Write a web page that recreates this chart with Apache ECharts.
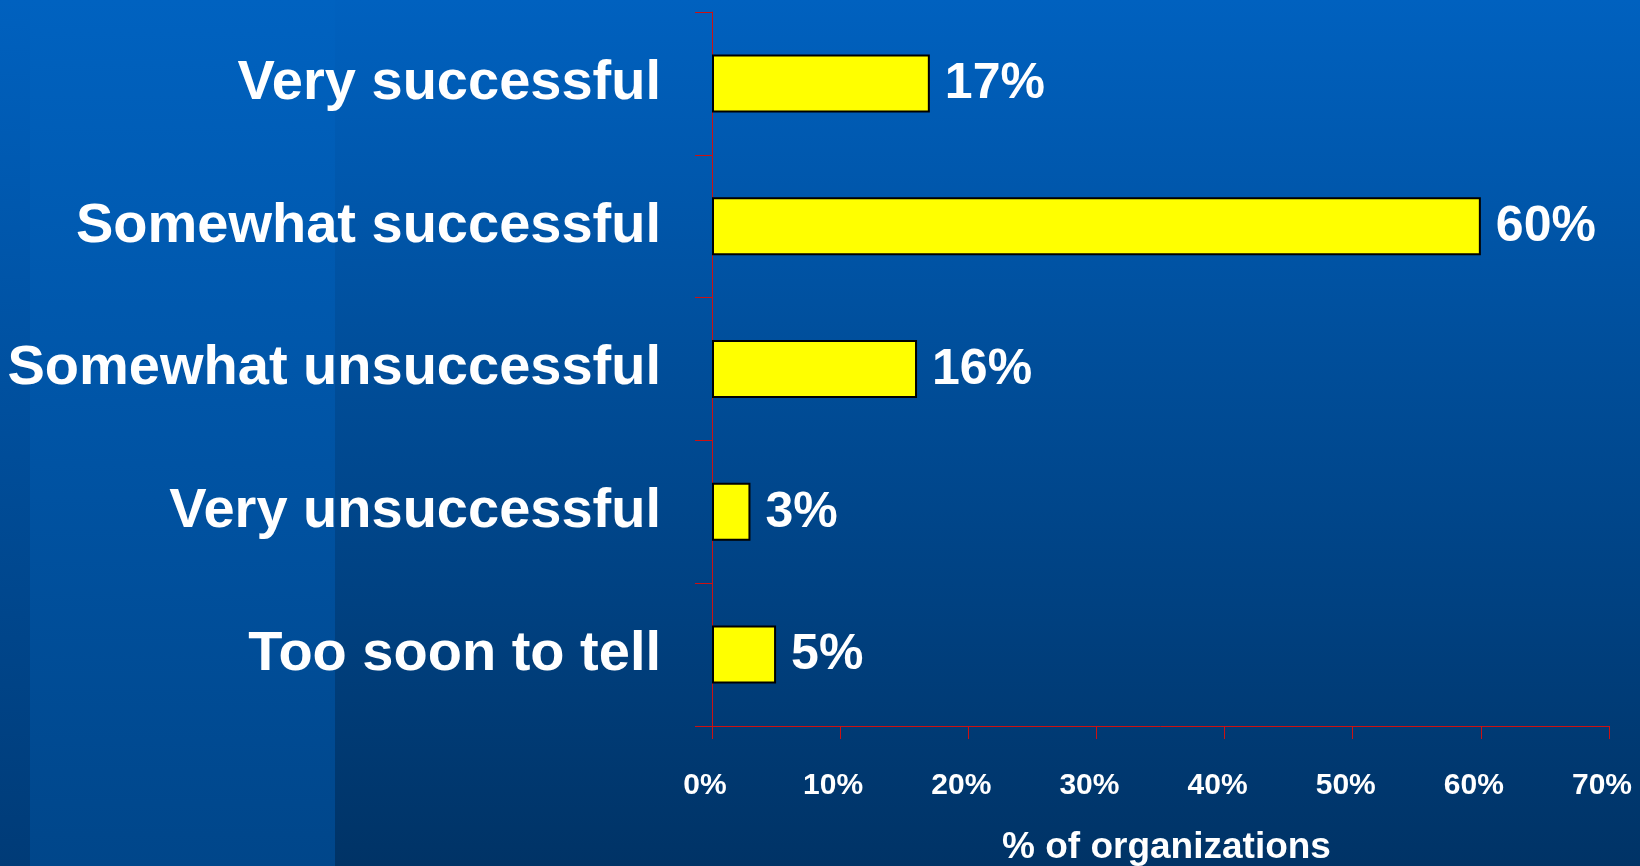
<!DOCTYPE html>
<html>
<head>
<meta charset="utf-8">
<title>Success rating</title>
<script src="https://cdn.jsdelivr.net/npm/echarts@6/dist/echarts.min.js"></script>
<style>
  html, body { margin: 0; padding: 0; width: 100%; height: 100%; overflow: hidden; }
  #chart { width: 1640px; height: 866px; }
</style>
</head>
<body>
<div id="chart"></div>
<script>
// Survey answers, top to bottom
const categories = [
  'Very successful',
  'Somewhat successful',
  'Somewhat unsuccessful',
  'Very unsuccessful',
  'Too soon to tell'
];
// Share of organizations giving each answer (%)
const shares = [17, 60, 16, 3, 5];
// Value axis range and step (%)
const axisMin = 0;
const axisMax = 70;
const axisStep = 10;
const axisTitle = '% of organizations';

const FONT = '"Liberation Sans", Arial, sans-serif';
const RED = '#CC1111';

const chart = echarts.init(document.getElementById('chart'), null, { renderer: 'canvas' });

function vGrad(top, bottom) {
  return new echarts.graphic.LinearGradient(0, 0, 0, 1, [
    { offset: 0, color: top },
    { offset: 1, color: bottom }
  ]);
}

chart.setOption({
  backgroundColor: vGrad('#0061BF', '#003366'),
  animation: false,
  graphic: [
    {
      type: 'rect', z: -10, silent: true,
      shape: { x: 0, y: 0, width: 30, height: 866 },
      style: { fill: vGrad('#0061BF', '#003B77') }
    },
    {
      type: 'rect', z: -10, silent: true,
      shape: { x: 30, y: 0, width: 305, height: 866 },
      style: { fill: vGrad('#0062C0', '#00468A') }
    }
  ],
  grid: {
    left: 712, right: 31, top: 12, bottom: 140,
    containLabel: false,
    outerBoundsMode: 'none'
  },
  xAxis: {
    type: 'value',
    min: axisMin,
    max: axisMax,
    interval: axisStep,
    name: axisTitle,
    nameLocation: 'middle',
    nameGap: 103,
    nameTextStyle: {
      color: '#FFFFFF', fontFamily: FONT, fontWeight: 'bold', fontSize: 37,
      padding: [0, 0, 0, 12]
    },
    axisLine: { show: true, lineStyle: { color: RED, width: 1 } },
    axisTick: { show: true, inside: false, length: 13, lineStyle: { color: RED, width: 1 } },
    splitLine: { show: false },
    axisLabel: {
      color: '#FFFFFF', fontFamily: FONT, fontWeight: 'bold', fontSize: 30,
      margin: 45, formatter: '{value}%', padding: [0, 14, 0, 0]
    }
  },
  yAxis: {
    type: 'category',
    data: categories,
    inverse: true,
    axisLine: { show: true, lineStyle: { color: RED, width: 1 } },
    axisTick: { show: true, inside: false, length: 17, alignWithLabel: false, lineStyle: { color: RED, width: 1 } },
    splitLine: { show: false },
    axisLabel: {
      color: '#FFFFFF', fontFamily: FONT, fontWeight: 'bold', fontSize: 56, margin: 51,
      padding: [4, 0, 0, 0]
    }
  },
  series: [{
    type: 'bar',
    data: shares,
    barWidth: 58,
    itemStyle: { color: '#FFFF00', borderColor: '#000000', borderWidth: 2 },
    label: {
      show: true,
      position: 'right',
      distance: 15,
      offset: [0, 1],
      formatter: '{c}%',
      color: '#FFFFFF', fontFamily: FONT, fontWeight: 'bold', fontSize: 50
    },
    z: 3
  }]
});
</script>
</body>
</html>
